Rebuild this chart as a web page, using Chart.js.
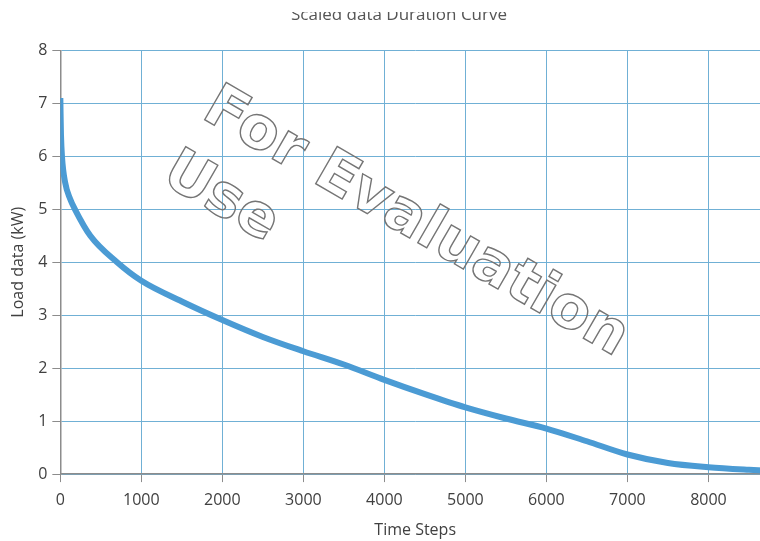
<!DOCTYPE html>
<html>
<head>
<meta charset="utf-8">
<script src="https://cdn.jsdelivr.net/npm/chart.js@4.4.1/dist/chart.umd.min.js"></script>
<style>
  html, body { margin: 0; padding: 0; background: #fff; overflow: hidden; }
  #clip { position: absolute; left: 0; top: 12px; width: 800px; height: 529px; overflow: hidden; }
  #wrap { position: absolute; left: 0; top: -12px; width: 798px; height: 540px; }
</style>
</head>
<body>
<div id="clip"><div id="wrap"><canvas id="c"></canvas></div></div>
<script>
// Load duration curve: hours sorted from highest to lowest load
const timeSteps = [0, 3, 8, 20, 60, 120, 180, 370, 700, 1000, 1500, 2000, 2500, 3000, 3500, 4000, 4500, 5000, 5500, 6000, 6500, 7000, 7500, 8000, 8500, 8760];
const loadKW    = [7.1, 6.8, 6.4, 6.0, 5.5, 5.2, 5.0, 4.5, 4.0, 3.65, 3.26, 2.91, 2.59, 2.32, 2.07, 1.78, 1.51, 1.26, 1.05, 0.86, 0.62, 0.37, 0.21, 0.13, 0.08, 0.06];
const xTickValues = [0, 1000, 2000, 3000, 4000, 5000, 6000, 7000, 8000];
const yTickValues = [0, 1, 2, 3, 4, 5, 6, 7, 8];
const chartTitle = 'Scaled data Duration Curve';
const xTitle = 'Time Steps';
const yTitle = 'Load data (kW)';
const watermarkLines = ['For Evaluation', 'Use'];

const points = timeSteps.map((t, i) => ({ x: t, y: loadKW[i] }));

const gridBlue = 'rgb(112,176,213)';
const axisGray = '#8c8c8c';
const textGray = '#404040';
const font = 'Open Sans, Noto Sans, sans-serif';
const rightPad = 28;

// Centre the title across the whole canvas rather than the padded box
const titleSpan = {
  id: 'titleSpan',
  afterLayout(chart) {
    const t = chart.titleBlock;
    if (t) { t.right += rightPad; t.width += rightPad; }
  }
};

const watermark = {
  id: 'watermark',
  afterDraw(chart) {
    const ctx = chart.ctx;
    ctx.save();
    ctx.font = 'bold 59px "DejaVu Sans"';
    ctx.strokeStyle = '#757575';
    ctx.lineWidth = 1.4;
    ctx.textBaseline = 'alphabetic';
    ctx.translate(200, 117);
    ctx.rotate(30 * Math.PI / 180);
    ctx.strokeText(watermarkLines[0], 0, 0);
    ctx.strokeText(watermarkLines[1], -3, 76);
    ctx.restore();
  }
};

const fixedTicks = values => scale => { scale.ticks = values.map(v => ({ value: v })); };

new Chart(document.getElementById('c'), {
  type: 'line',
  data: {
    datasets: [{
      data: points,
      borderColor: '#4b9bd4',
      borderWidth: 6,
      pointRadius: 0,
      fill: false,
      cubicInterpolationMode: 'monotone'
    }]
  },
  options: {
    responsive: true,
    maintainAspectRatio: false,
    animation: false,
    layout: { padding: { left: 0, right: rightPad, top: 0, bottom: 0 } },
    plugins: {
      legend: { display: false },
      tooltip: { enabled: false },
      title: {
        display: true,
        text: chartTitle,
        color: '#555',
        font: { family: font, size: 17, weight: 'normal' },
        padding: { top: 5, bottom: 25 }
      }
    },
    scales: {
      x: {
        type: 'linear',
        min: 0,
        max: 8760,
        afterBuildTicks: fixedTicks(xTickValues),
        ticks: {
          autoSkip: false,
          color: textGray,
          padding: 9,
          maxRotation: 0,
          font: { family: font, size: 16 },
          callback: v => String(v)
        },
        grid: { color: gridBlue, lineWidth: 1, tickLength: 8, tickColor: axisGray },
        border: { color: axisGray, width: 1.5 },
        title: {
          display: true,
          text: xTitle,
          color: textGray,
          font: { family: font, size: 16 },
          padding: { top: 1.5, bottom: 0 }
        }
      },
      y: {
        min: 0,
        max: 8,
        afterBuildTicks: fixedTicks(yTickValues),
        ticks: {
          color: textGray,
          padding: 5,
          font: { family: font, size: 16 },
          callback: v => String(v)
        },
        grid: { color: gridBlue, lineWidth: 1, tickLength: 8, tickColor: axisGray },
        border: { color: axisGray, width: 1.5 },
        title: {
          display: true,
          text: yTitle,
          color: textGray,
          font: { family: font, size: 16 },
          padding: { top: 9, bottom: 5 }
        }
      }
    }
  },
  plugins: [titleSpan, watermark]
});
</script>
</body>
</html>
